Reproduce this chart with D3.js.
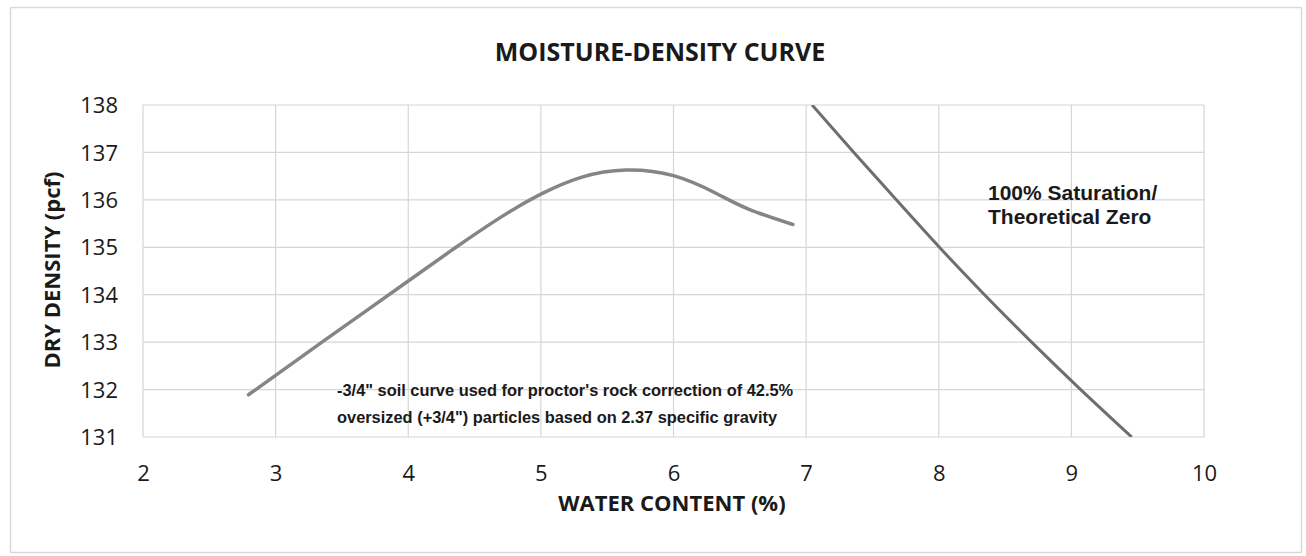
<!DOCTYPE html>
<html>
<head>
<meta charset="utf-8">
<script src="https://cdn.jsdelivr.net/npm/d3@7"></script>
<style>
  html, body { margin: 0; padding: 0; background: #fff; }
  svg { display: block; }
</style>
</head>
<body>
<svg id="chart" width="1306" height="556"></svg>
<script>
// ---- data ----
const title = "MOISTURE-DENSITY CURVE";
const xTitle = "WATER CONTENT (%)";
const yTitle = "DRY DENSITY (pcf)";
const xTicks = [2, 3, 4, 5, 6, 7, 8, 9, 10];
const yTicks = [131, 132, 133, 134, 135, 136, 137, 138];
const curveWater = [2.795, 3.0, 3.36, 4.0, 4.36, 4.69, 5.0, 5.31, 5.64, 6.0, 6.32, 6.57, 6.9];
const curveDensity = [131.89, 132.30, 133.02, 134.29, 135.0, 135.62, 136.12, 136.48, 136.63, 136.51, 136.14, 135.80, 135.48];
const zavWater = [7.045, 7.36, 7.68, 8.005, 8.345, 8.70, 9.07, 9.455];
const zavDensity = [138, 137, 136, 135, 134, 133, 132, 131];
const noteLines = ["-3/4\" soil curve used for proctor's rock correction of 42.5%",
                   "oversized (+3/4\") particles based on 2.37 specific gravity"];
const zavLines = ["100% Saturation/", "Theoretical Zero"];

// ---- layout ----
const svg = d3.select("#chart");
const L = 143, R = 1204, T = 105, B = 437;
const x = d3.scaleLinear().domain([2, 10]).range([L, R]);
const y = d3.scaleLinear().domain([131, 138]).range([B, T]);

// outer frame
svg.append("rect").attr("x", 10.5).attr("y", 7.5).attr("width", 1291).attr("height", 545)
  .attr("fill", "none").attr("stroke", "#d9d9d9").attr("stroke-width", 1.5);

// grid
const grid = svg.append("g");
grid.selectAll("line.v").data(xTicks).join("line")
  .attr("x1", d => x(d)).attr("x2", d => x(d)).attr("y1", T).attr("y2", B)
  .attr("stroke", "#d6d6d6").attr("stroke-width", 1.2);
grid.selectAll("line.h").data(yTicks).join("line")
  .attr("y1", d => y(d)).attr("y2", d => y(d)).attr("x1", L).attr("x2", R)
  .attr("stroke", "#d6d6d6").attr("stroke-width", 1.2);

// axes (labels only)
const xAxis = d3.axisBottom(x).tickValues(xTicks).tickSize(0).tickPadding(0).tickFormat(d3.format("d"));
const gx = svg.append("g").attr("transform", `translate(0,${B})`).call(xAxis);
gx.select(".domain").remove();
gx.selectAll("text").attr("dy", null).attr("y", 44)
  .style("font-family", "'Open Sans', sans-serif").style("font-size", "22px").attr("fill", "#1a1a1a");

const yAxis = d3.axisLeft(y).tickValues(yTicks).tickSize(0).tickPadding(25).tickFormat(d3.format("d"));
const gy = svg.append("g").attr("transform", `translate(${L},0)`).call(yAxis);
gy.select(".domain").remove();
gy.selectAll("text").attr("dy", "0.35em")
  .style("font-family", "'Open Sans', sans-serif").style("font-size", "22px").attr("fill", "#1a1a1a");

// clip
svg.append("clipPath").attr("id", "plotclip").append("rect")
  .attr("x", L).attr("y", T).attr("width", R - L).attr("height", B - T);

const line = d3.line().x(d => x(d[0])).y(d => y(d[1])).curve(d3.curveNatural);
const curveData = curveWater.map((w, i) => [w, curveDensity[i]]);
const zavData = zavWater.map((w, i) => [w, zavDensity[i]]);

svg.append("path").datum(curveData).attr("d", line)
  .attr("fill", "none").attr("stroke", "#858585").attr("stroke-width", 3.5).attr("stroke-linecap", "round");
svg.append("path").datum(zavData).attr("d", line).attr("clip-path", "url(#plotclip)")
  .attr("fill", "none").attr("stroke", "#6e6e6e").attr("stroke-width", 3);

// annotations
const note = svg.append("g")
  .style("font-family", "'Liberation Sans', Arial, sans-serif").style("font-weight", "bold")
  .style("font-size", "16.4px").attr("fill", "#1a1a1a");
note.selectAll("text").data(noteLines).join("text")
  .attr("x", 337).attr("y", (d, i) => 396 + i * 26.5).text(d => d);

const zav = svg.append("text").attr("x", 988).attr("y", 200)
  .style("font-family", "'Liberation Sans', Arial, sans-serif").style("font-weight", "bold")
  .style("font-size", "21px").attr("fill", "#1a1a1a");
zav.selectAll("tspan").data(zavLines).join("tspan")
  .attr("x", 988).attr("dy", (d, i) => i === 0 ? 0 : 24).text(d => d);

// titles
svg.append("text").attr("x", 660).attr("y", 61).attr("text-anchor", "middle")
  .style("font-family", "'Open Sans', sans-serif").style("font-weight", "bold").style("font-size", "25px")
  .attr("fill", "#1a1a1a").text(title);

svg.append("text").attr("x", 672).attr("y", 511).attr("text-anchor", "middle")
  .style("font-family", "'Open Sans', sans-serif").style("font-weight", "bold").style("font-size", "22px")
  .attr("fill", "#1a1a1a").text(xTitle);

svg.append("text").attr("transform", "translate(60,270) rotate(-90)").attr("text-anchor", "middle")
  .style("font-family", "'Open Sans', sans-serif").style("font-weight", "bold").style("font-size", "22px")
  .attr("fill", "#1a1a1a").text(yTitle);
</script>
</body>
</html>
